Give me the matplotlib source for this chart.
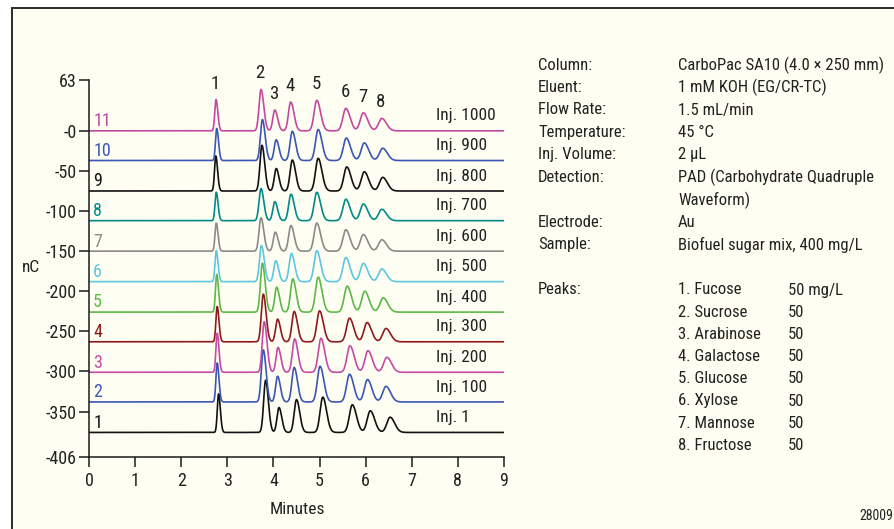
import numpy as np
import matplotlib
matplotlib.use('Agg')
import matplotlib.pyplot as plt
from matplotlib.patches import Rectangle

plt.rcParams['font.family'] = ['Roboto Condensed', 'Liberation Sans', 'DejaVu Sans']

# traces, bottom (Inj. 1) to top (Inj. 1000)
inj_labels = ['Inj. 1', 'Inj. 100', 'Inj. 200', 'Inj. 300', 'Inj. 400', 'Inj. 500',
              'Inj. 600', 'Inj. 700', 'Inj. 800', 'Inj. 900', 'Inj. 1000']
trace_nums = ['1', '2', '3', '4', '5', '6', '7', '8', '9', '10', '11']
baselines = [-376, -338, -301, -263, -226, -188, -150, -112, -75, -37, 0]
colors = ['#111111', '#3b56b3', '#c64aa6', '#8e1a1f', '#5cb946', '#5ec6e2',
          '#8a8a8a', '#008a88', '#111111', '#3b56b3', '#c4489e']

# retention times (min) per trace, peaks 1..8
ret_times = [
    [2.81, 3.83, 4.12, 4.50, 5.07, 5.71, 6.10, 6.53],
    [2.78, 3.78, 4.09, 4.45, 5.01, 5.65, 6.04, 6.44],
    [2.78, 3.80, 4.10, 4.46, 5.03, 5.66, 6.05, 6.46],
    [2.78, 3.78, 4.09, 4.45, 5.00, 5.65, 6.03, 6.44],
    [2.77, 3.76, 4.07, 4.42, 4.97, 5.60, 5.98, 6.38],
    [2.76, 3.74, 4.05, 4.39, 4.94, 5.57, 5.95, 6.35],
    [2.76, 3.73, 4.04, 4.38, 4.94, 5.57, 5.95, 6.35],
    [2.76, 3.73, 4.03, 4.38, 4.94, 5.57, 5.95, 6.35],
    [2.75, 3.75, 4.06, 4.41, 4.97, 5.59, 5.97, 6.37],
    [2.77, 3.76, 4.06, 4.41, 4.97, 5.58, 5.97, 6.37],
    [2.755, 3.73, 4.03, 4.375, 4.94, 5.57, 5.95, 6.35],
]
# peak heights (nC above baseline)
heights = [
    [48, 65, 31, 41, 44, 34.5, 27, 19],
    [48.6, 65, 32, 43, 44.5, 34.5, 28, 19.5],
    [48.6, 63, 31, 41.6, 42.4, 33, 27, 18.7],
    [44, 59.4, 28.3, 37.8, 38.6, 29.5, 24, 16.6],
    [47, 61, 31, 41.5, 43.6, 32.4, 26, 17.8],
    [38.6, 45, 26, 35, 38.6, 30, 22.8, 15.8],
    [35, 41.6, 23.7, 32, 35, 26.7, 20.8, 14.2],
    [35.4, 40, 23.7, 33, 35.4, 26.7, 20.8, 14.2],
    [43.6, 57, 28, 38.6, 40.7, 30, 24, 17],
    [40, 51, 25.8, 36.5, 38.6, 28, 22, 15.3],
    [39, 51.6, 26, 36, 38, 28, 22.5, 15.5],
]
widths = [0.032, 0.05, 0.05, 0.058, 0.068, 0.075, 0.078, 0.082]
peak_ids = ['1', '2', '3', '4', '5', '6', '7', '8']

cond_labels = ['Column:', 'Eluent:', 'Flow Rate:', 'Temperature:', 'Inj. Volume:',
               'Detection:', '', 'Electrode:', 'Sample:']
cond_values = ['CarboPac SA10 (4.0 \u00d7 250 mm)', '1 mM KOH (EG/CR-TC)', '1.5 mL/min',
               '45 \u00b0C', '2 \u00b5L', 'PAD (Carbohydrate Quadruple', 'Waveform)',
               'Au', 'Biofuel sugar mix, 400 mg/L']
peak_names = ['1. Fucose', '2. Sucrose', '3. Arabinose', '4. Galactose',
              '5. Glucose', '6. Xylose', '7. Mannose', '8. Fructose']
peak_conc = ['50 mg/L', '50', '50', '50', '50', '50', '50', '50']


def peak(x, rt, h, s):
    sig = np.where(x < rt, 0.85 * s, 1.2 * s)
    return h * np.exp(-0.5 * ((x - rt) / sig) ** 2)


FS = 12
TXT = '#222222'

fig = plt.figure(figsize=(8.94, 5.29), dpi=100, facecolor='white')
fig.patches.append(Rectangle((11.5 / 894, -0.05), 1.2, (529 - 7.5) / 529 + 0.05,
                             transform=fig.transFigure, facecolor='#fefef2',
                             edgecolor='#2a2a2a', lw=1.4, zorder=-10))

ax = fig.add_axes([89 / 894, 1 - 456.5 / 529, (504 - 89) / 894, (456.5 - 80.3) / 529])
ax.patch.set_visible(False)

x = np.linspace(0, 9, 3000)
for i in range(len(baselines)):
    y = np.full_like(x, float(baselines[i]))
    for rt, h, s in zip(ret_times[i], heights[i], widths):
        y = y + peak(x, rt, h, s)
    ax.plot(x, y, color=colors[i], lw=1.2)
    ax.text(0.09, baselines[i] + 12, trace_nums[i], color=colors[i], fontsize=13,
            ha='left', va='center')
    ax.text(7.52, baselines[i] + 18.5, inj_labels[i], color=TXT, fontsize=12.5,
            ha='left', va='center')

for k in range(8):
    ax.text(ret_times[-1][k] - 0.02, heights[-1][k] + 20, peak_ids[k], fontsize=13.5,
            ha='center', va='center', color=TXT)

ax.set_xlim(0, 9)
ax.set_ylim(-406, 63)
ax.set_xticks(range(10))
ax.set_yticks([63, 0, -50, -100, -150, -200, -250, -300, -350, -406])
ax.set_yticklabels(['63', '-0', '-50', '-100', '-150', '-200', '-250', '-300', '-350', '-406'])
for s in ['top', 'right']:
    ax.spines[s].set_visible(False)
for s in ['left', 'bottom']:
    ax.spines[s].set_linewidth(1.1)
    ax.spines[s].set_color('#1a1a1a')
ax.tick_params(axis='both', direction='out', length=7, width=1.1, color='#1a1a1a',
               labelsize=13, labelcolor=TXT)
ax.tick_params(axis='x', pad=4)
ax.tick_params(axis='y', pad=2)

fig.text(297 / 894, 1 - 509 / 529, 'Minutes', fontsize=12.5, ha='center', va='center', color=TXT)
fig.text(22 / 894, 1 - 268 / 529, 'nC', fontsize=12.5, ha='left', va='center', color=TXT)

# conditions block
for j, (lab, val) in enumerate(zip(cond_labels, cond_values)):
    yy = 1 - (65 + 22.5 * j) / 529
    fig.text(538 / 894, yy, lab, fontsize=FS, ha='left', va='center', color=TXT)
    fig.text(678 / 894, yy, val, fontsize=FS, ha='left', va='center', color=TXT)

fig.text(538 / 894, 1 - 290 / 529, 'Peaks:', fontsize=FS, ha='left', va='center', color=TXT)
for j, (nm, c) in enumerate(zip(peak_names, peak_conc)):
    yy = 1 - (290 + 22.2 * j) / 529
    fig.text(678 / 894, yy, nm, fontsize=FS, ha='left', va='center', color=TXT)
    fig.text(788 / 894, yy, c, fontsize=FS, ha='left', va='center', color=TXT)

fig.text(893 / 894, 1 - 516 / 529, '28009', fontsize=10, ha='right', va='center', color=TXT)

fig.savefig('out.png', dpi=100, facecolor='white')
